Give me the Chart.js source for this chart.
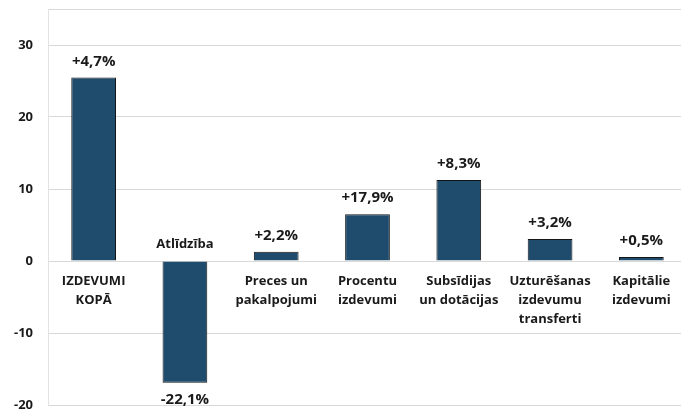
<!DOCTYPE html>
<html>
<head>
<meta charset="utf-8">
<script src="https://cdn.jsdelivr.net/npm/chart.js@4"></script>
<style>
  html, body { margin:0; padding:0; background:#fff; overflow:hidden; }
  #wrap { width:687px; height:410px; }
</style>
</head>
<body>
<div id="wrap"><canvas id="c"></canvas></div>
<script>
// ====== Data ======
const categories = [
  ['IZDEVUMI','KOPĀ'],
  ['Atlīdzība'],
  ['Preces un','pakalpojumi'],
  ['Procentu','izdevumi'],
  ['Subsīdijas','un dotācijas'],
  ['Uzturēšanas','izdevumu','transferti'],
  ['Kapitālie','izdevumi']
];
const values = [25.5, -16.9, 1.3, 6.5, 11.25, 3.05, 0.55];
const growthLabels = ['+4,7%','-22,1%','+2,2%','+17,9%','+8,3%','+3,2%','+0,5%'];
const yTicks = [-20, -10, 0, 10, 20, 30];

const FONT = '"Open Sans", sans-serif';
const TXT = '#1a1a1a';

// draws the growth % labels and the category names next to the zero line
const labelPlugin = {
  id: 'barLabels',
  afterDatasetsDraw(chart){
    const ctx = chart.ctx;
    const meta = chart.getDatasetMeta(0);
    const y = chart.scales.y;
    const zero = y.getPixelForValue(0);
    ctx.save();
    ctx.fillStyle = TXT;
    ctx.textAlign = 'center';
    ctx.textBaseline = 'middle';
    meta.data.forEach((bar, i) => {
      const v = values[i];
      const valFont = 'bold 15px ' + FONT, catFont = 'bold 13px ' + FONT;
      if(v >= 0){
        ctx.font = valFont;
        ctx.fillText(growthLabels[i], bar.x, bar.y - 16);
        ctx.font = catFont;
        categories[i].forEach((ln, k) => ctx.fillText(ln, bar.x, zero + 20 + k*19));
      } else {
        ctx.font = valFont;
        ctx.fillText(growthLabels[i], bar.x, bar.y + 17);
        ctx.font = catFont;
        categories[i].forEach((ln, k) => ctx.fillText(ln, bar.x, zero - 17 - (categories[i].length-1-k)*19));
      }
    });
    ctx.restore();
  }
};

new Chart(document.getElementById('c'), {
  type: 'bar',
  data: {
    labels: categories.map(c => c.join(' ')),
    datasets: [{
      data: values,
      backgroundColor: '#1f4b6d',
      borderColor: '#151515',
      borderWidth: 1,
      barPercentage: 0.49,
      categoryPercentage: 1
    }]
  },
  plugins: [labelPlugin],
  options: {
    responsive: true,
    maintainAspectRatio: false,
    animation: false,
    layout: { padding: { top: 9, bottom: 5, right: 0, left: 0 } },
    plugins: { legend: { display:false }, tooltip: { enabled:false } },
    scales: {
      x: { display: false },
      y: {
        min: -20, max: 35,
        afterFit: s => { s.width = 48; s.paddingTop = 0; s.paddingBottom = 0; },
        afterBuildTicks: s => { s.ticks = yTicks.concat([35]).map(v => ({ value: v })); },
        ticks: {
          padding: 15,
          color: TXT,
          font: { family: FONT, size: 13, weight: 'bold' },
          callback: v => (v === 35 ? '' : v)
        },
        grid: { color: '#d9d9d9', drawTicks: false, lineWidth: 1 },
        border: { display: true, color: '#e3e3e3' }
      }
    }
  }
});
</script>
</body>
</html>
